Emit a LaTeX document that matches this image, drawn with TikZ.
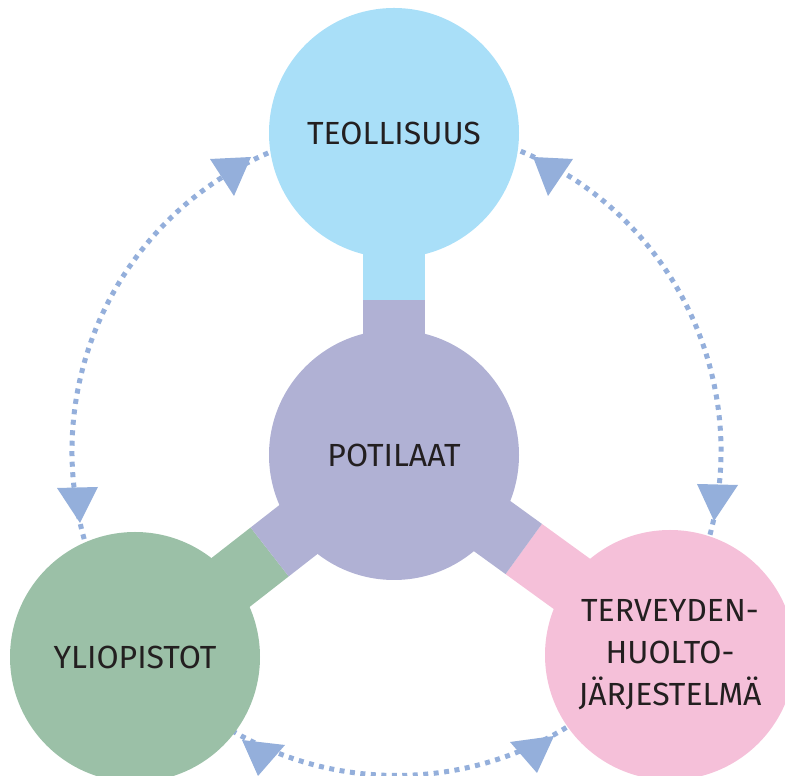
\documentclass[tikz,border=0pt]{standalone}
\usepackage{fontspec}
\setmainfont{Fira Sans}
\usepackage{xcolor}
\definecolor{c_blue}{HTML}{A9DFF8}
\definecolor{c_purple}{HTML}{B0B1D4}
\definecolor{c_green}{HTML}{9BC0A7}
\definecolor{c_pink}{HTML}{F5C0D9}
\definecolor{c_arrow}{HTML}{94AFDB}
\definecolor{c_text}{HTML}{231F20}
\usetikzlibrary{calc,backgrounds}
\tikzset{GROUP/.style={circle,minimum size=250pt,inner sep=0pt,align=center,text=c_text,font=\fontsize{32}{42}\selectfont}}
\tikzset{BAR/.style={line width=62pt}}
\tikzset{LINK/.style={c_arrow,line width=5pt,dash pattern=on 5pt off 5.5pt}}
\tikzset{HEAD/.style={fill=c_arrow}}

\begin{document}
\begin{tikzpicture}[x=1pt,y=1pt]
\useasboundingbox (0,0) rectangle (785,776);

\node[GROUP, fill=c_purple] (n_pot) at (394,321) {POTILAAT};
\node[GROUP, fill=c_blue] (n_teoll) at ($(n_pot)+(0,322)$) {TEOLLISUUS};
\node[GROUP, fill=c_green] (n_ylio) at ($(n_pot)+(-259,-202)$) {YLIOPISTOT};
\node[GROUP, fill=c_pink] (n_terv) at ($(n_pot)+(276,-200)$) {TERVEYDEN-\\HUOLTO-\\JÄRJESTELMÄ};

\coordinate (c_ring) at (396.5,325);

\begin{scope}[on background layer]
\draw[BAR,c_blue] (n_teoll.center) -- ($(n_pot.center)!0.48!(n_teoll.center)$);
\draw[BAR,c_purple] (n_pot.center) -- ($(n_pot.center)!0.48!(n_teoll.center)$);
\draw[BAR,c_green] (n_ylio.center) -- ($(n_pot.center)!0.48!(n_ylio.center)$);
\draw[BAR,c_purple] (n_pot.center) -- ($(n_pot.center)!0.48!(n_ylio.center)$);
\draw[BAR,c_pink] (n_terv.center) -- ($(n_pot.center)!0.47!(n_terv.center)$);
\draw[BAR,c_purple] (n_pot.center) -- ($(n_pot.center)!0.47!(n_terv.center)$);

\draw[LINK] (c_ring) ++(113.3:324.5) arc[start angle=113.3, end angle=196.5, radius=324.5];
\draw[LINK] (c_ring) ++(67.5:324.5) arc[start angle=67.5, end angle=-16.3, radius=324.5];
\draw[LINK] (c_ring) ++(239.5:324.5) arc[start angle=239.5, end angle=302, radius=324.5];
\end{scope}

\fill[HEAD] (210,617) -- (251,619) -- (234,580) -- cycle;
\fill[HEAD] (533,619) -- (573,617) -- (548,580) -- cycle;
\fill[HEAD] (57,288) -- (98,289) -- (80,253) -- cycle;
\fill[HEAD] (697,292) -- (738,291) -- (714,255) -- cycle;
\fill[HEAD] (242,36) -- (285,31) -- (258,0) -- cycle;
\fill[HEAD] (510,34) -- (554,40) -- (537,3) -- cycle;

\end{tikzpicture}
\end{document}
